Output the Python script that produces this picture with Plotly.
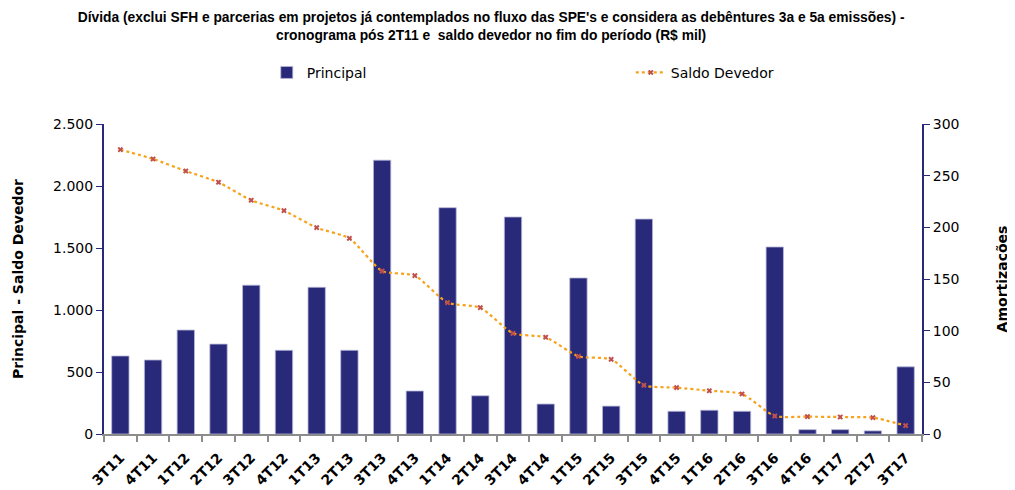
import plotly.graph_objects as go

categories = ["3T11", "4T11", "1T12", "2T12", "3T12", "4T12", "1T13", "2T13",
              "3T13", "4T13", "1T14", "2T14", "3T14", "4T14", "1T15", "2T15",
              "3T15", "4T15", "1T16", "2T16", "3T16", "4T16", "1T17", "2T17", "3T17"]

principal = [75.5, 71.6, 100.6, 87, 144, 81, 142, 81, 265, 41.6, 219, 37,
             210, 29, 151, 27, 208, 22, 23, 22, 181, 4.2, 4.2, 3, 65]
saldo_devedor = [2293, 2218, 2121, 2030, 1885, 1801, 1664, 1578, 1314, 1277,
                 1059, 1019, 812, 780, 626, 602, 393, 374, 349, 323, 145, 140,
                 137, 132, 67]

NAVY = "#29297A"
FONT = "DejaVu Sans"

fig = go.Figure()
fig.add_trace(go.Bar(
    x=categories, y=principal, name="Principal", yaxis="y",
    marker=dict(color=NAVY, line=dict(color="#b8b8d8", width=0.8)),
))
fig.add_trace(go.Scatter(
    x=categories, y=saldo_devedor, name="Saldo Devedor", yaxis="y2",
    mode="lines+markers",
    line=dict(color="#F7A21B", width=2.2, dash="dot", shape="spline", smoothing=0.6),
    marker=dict(symbol="x", size=5, color="#C0504D"),
))

fig.update_layout(
    width=1015, height=490,
    margin=dict(l=96, r=101, t=116, b=64, autoexpand=False),
    plot_bgcolor="white", paper_bgcolor="white",
    separators=",.",
    bargap=0.47,
    font=dict(family=FONT, color="#000000"),
    title=dict(
        text="Dívida (exclui SFH e parcerias em projetos já contemplados no fluxo das SPE's e considera as debêntures 3a e 5a emissões) -<br>cronograma pós 2T11 e  saldo devedor no fim do período (R$ mil)",
        font=dict(family="Liberation Sans", size=13.8, color="#000000", weight="bold"),
        x=0.476, xanchor="center", y=0.972, yanchor="top",
    ),
    legend=dict(
        orientation="h", x=0.199, xanchor="left", y=1.165, yanchor="middle",
        entrywidth=319, entrywidthmode="pixels",
        font=dict(family=FONT, size=14, color="#000000"),
        bgcolor="rgba(0,0,0,0)",
    ),
    xaxis=dict(
        type="category", automargin=False, range=[-0.5, 24.5],
        showline=True, linecolor="#8c8c8c", linewidth=2,
        ticks="outside", ticklen=6, tickcolor="#8c8c8c", tickwidth=1.5,
        tickson="boundaries",
        tickangle=-45, ticklabelstandoff=8,
        tickfont=dict(family=FONT, size=14, color="#000000", weight="bold"),
        showgrid=False, zeroline=False,
    ),
    yaxis=dict(
        side="right", range=[0, 300], tickvals=[0, 50, 100, 150, 200, 250, 300],
        automargin=False,
        showline=True, linecolor=NAVY, linewidth=2,
        ticks="outside", ticklen=6, tickcolor=NAVY,
        tickfont=dict(family=FONT, size=14, color="#000000"),
        showgrid=False, zeroline=False,
        title=dict(text="Amortizações", standoff=39,
                   font=dict(family=FONT, size=14, color="#000000", weight="bold")),
    ),
    yaxis2=dict(
        side="left", overlaying="y", range=[0, 2500], automargin=False,
        tickvals=[0, 500, 1000, 1500, 2000, 2500], tickformat=",d",
        showline=True, linecolor=NAVY, linewidth=2,
        ticks="outside", ticklen=6, tickcolor=NAVY,
        tickfont=dict(family=FONT, size=14, color="#000000"),
        showgrid=False, zeroline=False,
        title=dict(text="Principal - Saldo Devedor", standoff=26,
                   font=dict(family=FONT, size=14, color="#000000", weight="bold")),
    ),
)

fig.write_html("out.html")
